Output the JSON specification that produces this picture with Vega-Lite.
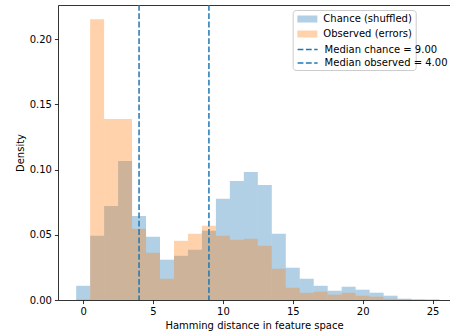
{
  "$schema": "https://vega.github.io/schema/vega-lite/v6.json",
  "autosize": "none",
  "padding": {"left": 58, "top": 5, "right": 0, "bottom": 32},
  "width": 392,
  "height": 295,
  "config": {
    "font": "DejaVu Sans",
    "view": {"stroke": null},
    "axis": {
      "grid": false,
      "tickSize": 3.6,
      "tickWidth": 0.8,
      "tickColor": "black",
      "domainColor": "black",
      "domainWidth": 0.8,
      "labelFontSize": 10,
      "labelColor": "black",
      "labelPadding": 3,
      "labelFlush": false,
      "titleFontSize": 10,
      "titleFontWeight": "normal",
      "titleColor": "black",
      "titlePadding": 3.5,
      "zindex": 1
    },
    "legend": {
      "labelFontSize": 10,
      "labelFont": "DejaVu Sans",
      "labelColor": "black",
      "labelLimit": 300,
      "symbolSize": 144
    }
  },
  "layer": [
    {
      "data": {
        "values": [
          {"series": "Chance (shuffled)", "start": -0.5, "end": 0.5, "density": 0.0109},
          {"series": "Chance (shuffled)", "start": 0.5, "end": 1.5, "density": 0.0492},
          {"series": "Chance (shuffled)", "start": 1.5, "end": 2.5, "density": 0.0722},
          {"series": "Chance (shuffled)", "start": 2.5, "end": 3.5, "density": 0.1067},
          {"series": "Chance (shuffled)", "start": 3.5, "end": 4.5, "density": 0.0645},
          {"series": "Chance (shuffled)", "start": 4.5, "end": 5.5, "density": 0.0485},
          {"series": "Chance (shuffled)", "start": 5.5, "end": 6.5, "density": 0.0309},
          {"series": "Chance (shuffled)", "start": 6.5, "end": 7.5, "density": 0.0339},
          {"series": "Chance (shuffled)", "start": 7.5, "end": 8.5, "density": 0.0385},
          {"series": "Chance (shuffled)", "start": 8.5, "end": 9.5, "density": 0.0531},
          {"series": "Chance (shuffled)", "start": 9.5, "end": 10.5, "density": 0.0776},
          {"series": "Chance (shuffled)", "start": 10.5, "end": 11.5, "density": 0.0913},
          {"series": "Chance (shuffled)", "start": 11.5, "end": 12.5, "density": 0.0982},
          {"series": "Chance (shuffled)", "start": 12.5, "end": 13.5, "density": 0.0883},
          {"series": "Chance (shuffled)", "start": 13.5, "end": 14.5, "density": 0.0508},
          {"series": "Chance (shuffled)", "start": 14.5, "end": 15.5, "density": 0.0247},
          {"series": "Chance (shuffled)", "start": 15.5, "end": 16.5, "density": 0.0163},
          {"series": "Chance (shuffled)", "start": 16.5, "end": 17.5, "density": 0.0109},
          {"series": "Chance (shuffled)", "start": 17.5, "end": 18.5, "density": 0.0071},
          {"series": "Chance (shuffled)", "start": 18.5, "end": 19.5, "density": 0.0102},
          {"series": "Chance (shuffled)", "start": 19.5, "end": 20.5, "density": 0.0079},
          {"series": "Chance (shuffled)", "start": 20.5, "end": 21.5, "density": 0.0056},
          {"series": "Chance (shuffled)", "start": 21.5, "end": 22.5, "density": 0.0033},
          {"series": "Chance (shuffled)", "start": 22.5, "end": 23.5, "density": 0.001},
          {"series": "Chance (shuffled)", "start": 23.5, "end": 24.5, "density": 0.0005},
          {"series": "Chance (shuffled)", "start": 24.5, "end": 25.5, "density": 0.0003},
          {"series": "Observed (errors)", "start": -0.5, "end": 0.5, "density": 0.0005},
          {"series": "Observed (errors)", "start": 0.5, "end": 1.5, "density": 0.2154},
          {"series": "Observed (errors)", "start": 1.5, "end": 2.5, "density": 0.1388},
          {"series": "Observed (errors)", "start": 2.5, "end": 3.5, "density": 0.1388},
          {"series": "Observed (errors)", "start": 3.5, "end": 4.5, "density": 0.0546},
          {"series": "Observed (errors)", "start": 4.5, "end": 5.5, "density": 0.0362},
          {"series": "Observed (errors)", "start": 5.5, "end": 6.5, "density": 0.0163},
          {"series": "Observed (errors)", "start": 6.5, "end": 7.5, "density": 0.0454},
          {"series": "Observed (errors)", "start": 7.5, "end": 8.5, "density": 0.0508},
          {"series": "Observed (errors)", "start": 8.5, "end": 9.5, "density": 0.0569},
          {"series": "Observed (errors)", "start": 9.5, "end": 10.5, "density": 0.0492},
          {"series": "Observed (errors)", "start": 10.5, "end": 11.5, "density": 0.0462},
          {"series": "Observed (errors)", "start": 11.5, "end": 12.5, "density": 0.0469},
          {"series": "Observed (errors)", "start": 12.5, "end": 13.5, "density": 0.0416},
          {"series": "Observed (errors)", "start": 13.5, "end": 14.5, "density": 0.024},
          {"series": "Observed (errors)", "start": 14.5, "end": 15.5, "density": 0.0094},
          {"series": "Observed (errors)", "start": 15.5, "end": 16.5, "density": 0.0056},
          {"series": "Observed (errors)", "start": 16.5, "end": 17.5, "density": 0.0064},
          {"series": "Observed (errors)", "start": 17.5, "end": 18.5, "density": 0.0041},
          {"series": "Observed (errors)", "start": 18.5, "end": 19.5, "density": 0.0056},
          {"series": "Observed (errors)", "start": 19.5, "end": 20.5, "density": 0.0033},
          {"series": "Observed (errors)", "start": 20.5, "end": 21.5, "density": 0.0025},
          {"series": "Observed (errors)", "start": 21.5, "end": 22.5, "density": 0.001},
          {"series": "Observed (errors)", "start": 22.5, "end": 23.5, "density": 0.0005},
          {"series": "Observed (errors)", "start": 23.5, "end": 24.5, "density": 0.0003},
          {"series": "Observed (errors)", "start": 24.5, "end": 25.5, "density": 0.0003}
        ]
      },
      "mark": {"type": "bar", "fillOpacity": 0.35, "strokeWidth": 0},
      "encoding": {
        "x": {
          "field": "start", "type": "quantitative",
          "scale": {"domain": [-1.8, 26.25], "nice": false, "zero": false},
          "axis": {"values": [0, 5, 10, 15, 20, 25], "format": "d", "title": "Hamming distance in feature space"}
        },
        "x2": {"field": "end"},
        "y": {
          "field": "density", "type": "quantitative", "stack": null,
          "scale": {"domain": [0, 0.2263], "nice": false, "zero": true},
          "axis": {"values": [0, 0.05, 0.1, 0.15, 0.2], "format": ".2f", "title": "Density"}
        },
        "y2": {"datum": 0},
        "fill": {
          "field": "series", "type": "nominal",
          "scale": {
            "domain": ["Chance (shuffled)", "Observed (errors)"],
            "range": ["#1f77b4", "#ff7f0e"]
          },
          "legend": {
            "orient": "none",
            "legendX": 234.7,
            "legendY": 5,
            "title": " ",
            "titleOrient": "bottom",
            "titleFontSize": 24,
            "titlePadding": 4,
            "padding": 3,
            "strokeColor": "#cccccc",
            "cornerRadius": 3,
            "symbolType": "M-1.667,-0.583H1.667V0.583H-1.667Z",
            "symbolStrokeWidth": 0,
            "symbolOpacity": 0.35,
            "symbolOffset": 5.65,
            "rowPadding": 4,
            "labelOffset": 10
          }
        }
      }
    },
    {
      "data": {
        "values": [
          {"series": "Median chance = 9.00", "median": 9},
          {"series": "Median observed = 4.00", "median": 4}
        ]
      },
      "mark": {"type": "rule", "strokeWidth": 1.5, "strokeDash": [5.8, 2.5]},
      "encoding": {
        "x": {
          "field": "median", "type": "quantitative",
          "axis": {"orient": "top", "labels": false, "ticks": false, "title": null, "domain": true}
        },
        "stroke": {
          "field": "series", "type": "nominal",
          "scale": {
            "domain": ["Median chance = 9.00", "Median observed = 4.00"],
            "range": ["#1f77b4", "#1f77b4"]
          },
          "legend": {
            "orient": "none",
            "legendX": 234.7,
            "legendY": 35.5,
            "title": null,
            "padding": 2,
            "symbolType": "M-1.667,0H1.667",
            "symbolStrokeWidth": 1.5,
            "symbolDash": [5.8, 2.5],
            "symbolOffset": 5.9,
            "rowPadding": 1.5,
            "labelOffset": 10
          }
        }
      }
    }
  ],
  "resolve": {"axis": {"x": "independent"}}
}
